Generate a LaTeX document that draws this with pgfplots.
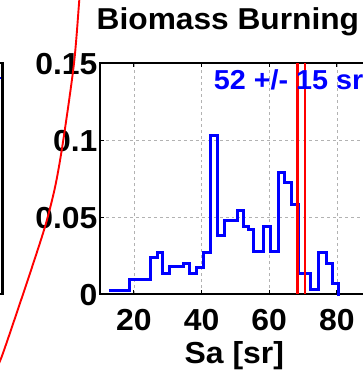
\documentclass[border=0pt]{standalone}
\usepackage{fontspec}
\setmainfont{Liberation Sans}[FakeStretch=1.05]
\usepackage{pgfplots}
\pgfplotsset{compat=1.18}
\begin{document}
\begin{tikzpicture}
\begin{axis}[
  at={(0,0)}, anchor=south west,
  scale only axis, width=270.7bp, height=231bp,
  xmin=10, xmax=90, ymin=0, ymax=0.15,
  xtick={20,40,60,80}, xticklabels={20,40,60,80},
  ytick={0,0.05,0.1,0.15}, yticklabels={0,0.05,0.1,0.15},
  scaled y ticks=false,
  grid=major, grid style={gray!60, dashed, line width=0.6bp},
  axis line style={line width=2.8bp},
  tick style={black, line width=1bp}, tick align=inside, major tick length=4bp,
  ticklabel style={font=\fontsize{30.5}{36}\selectfont\bfseries},
  /pgf/number format/assume math mode=true,
  xticklabel style={anchor=base, yshift=-36bp},
  yticklabel style={yshift=-1bp, xshift=1bp},
  title={Biomass Burning},
  title style={font=\fontsize{30.3}{36}\selectfont\bfseries, at={(0,1)}, anchor=base west, inner sep=0pt, xshift=-3.5bp, yshift=28bp},
  xlabel={Sa [sr]},
  xlabel style={font=\fontsize{30.5}{36}\selectfont\bfseries, at={(0.5,0)}, anchor=base, inner sep=0pt, yshift=-69.5bp, xshift=-1bp},
  clip=false,
]
\addplot[const plot, blue, line width=3bp] coordinates {
(12.7,0.002) (18.7,0.0095) (24.8,0.024) (27.0,0.027) (28.6,0.0134)
(30.6,0.0177) (34.6,0.020) (36.5,0.0134) (38.6,0.017) (40.6,0.027)
(42.7,0.103) (44.7,0.0377) (46.7,0.048) (50.5,0.0545) (52.4,0.044)
(54.0,0.0416) (55.5,0.0275) (58.4,0.044) (60.3,0.0275) (62.9,0.0788)
(64.6,0.0723) (66.6,0.0584) (68.6,0.0134) (72.1,0.003) (74.6,0.027)
(76.8,0.020) (78.7,0.007) (80.5,0) (80.6,0)
};
\addplot[red, line width=2.4bp] coordinates {(68.4,0) (68.4,0.15)};
\addplot[red, line width=2.4bp] coordinates {(70.5,0) (70.5,0.15)};
\node[anchor=base west, inner sep=0pt, text=blue, font=\fontsize{27.5}{32}\selectfont\bfseries] at (axis cs:43.6,0.1325) {52 +/- 15 sr};
\end{axis}
% neighbouring panel edge and annotation arc
\draw[black, line width=2.8bp] (-105bp,231bp) -- (-97.3bp,231bp) -- (-97.3bp,0bp) -- (-105bp,0bp);
\draw[blue, line width=2bp] (-105bp,216bp) -- (-98.7bp,216bp);
\draw[red, line width=1.9bp] plot[smooth] coordinates {(-18.5bp,320bp) (-20.7bp,294bp) (-26bp,230.7bp) (-36.7bp,154bp) (-44.5bp,109bp) (-54bp,70.7bp) (-66.7bp,30.7bp) (-83.3bp,-19bp) (-98.3bp,-62.7bp) (-106bp,-80bp)};
\pgfresetboundingbox
\useasboundingbox (-100bp,-77bp) rectangle (263bp,294bp);
\end{tikzpicture}
\end{document}
